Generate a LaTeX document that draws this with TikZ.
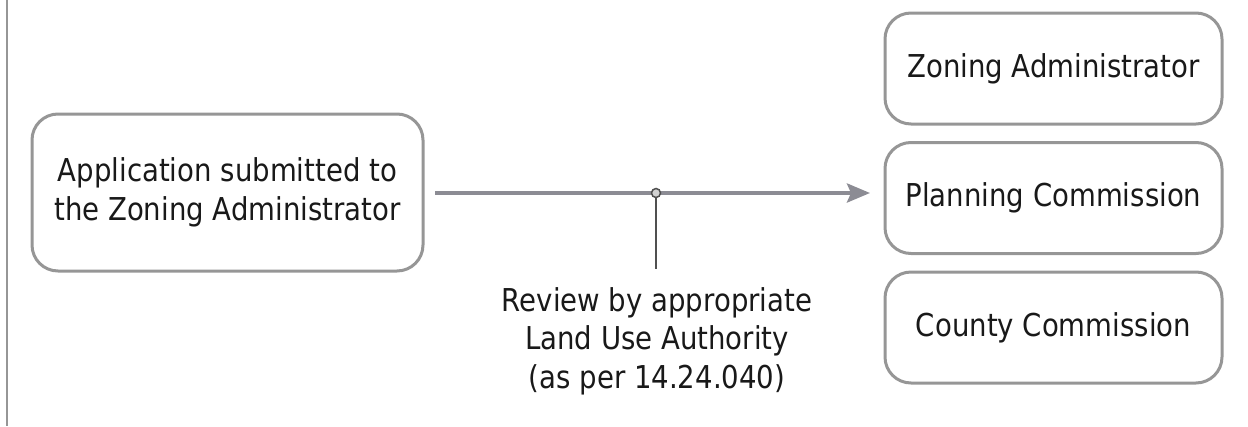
\documentclass[tikz,border=0pt]{standalone}
\usepackage{fontspec}
\setmainfont[FakeStretch=0.875]{DejaVu Sans}
\usetikzlibrary{arrows.meta,calc}
\definecolor{boxgray}{RGB}{150,150,150}
\definecolor{arrgray}{RGB}{140,140,148}
\definecolor{darkline}{RGB}{80,80,80}
\definecolor{txt}{RGB}{25,25,25}
\begin{document}
\begin{tikzpicture}[x=1pt,y=-1pt,
  every node/.style={font=\fontsize{31.5}{38.5}\selectfont, text=txt},
  rbox/.style={draw=boxgray, line width=3pt, rounded corners=26pt, fill=white, align=center, inner sep=0pt},
  flow/.style={draw=arrgray, line width=4pt, -{Stealth[length=23pt,width=19pt,inset=4pt]}},
  stem/.style={draw=darkline, line width=2pt},
  joint/.style={circle, draw=darkline, fill=gray!35, line width=1.5pt, minimum size=9pt, inner sep=0pt}
]
\useasboundingbox (0,0) rectangle (1248,426);
\coordinate (lt) at (7,0);
\coordinate (lb) at (7,426);
\draw[boxgray, line width=2.5pt] (lt) -- (lb);

\node[rbox, minimum width=391pt, minimum height=157pt] (app) at (227.5,192.5)
  {Application submitted to\\the Zoning Administrator};

\node[rbox, minimum width=337pt, minimum height=111pt] (za) at (1053.5,68.5) {Zoning Administrator};
\node[rbox, minimum width=337pt, minimum height=111pt] (pc) at (1053.5,198) {Planning Commission};
\node[rbox, minimum width=337pt, minimum height=111pt] (cc) at (1053.5,327.5) {County Commission};

\coordinate (tip) at (870,193);
\coordinate (start) at (435,193);
\draw[flow] (start) -- (tip);

\coordinate (stemend) at (656,269);
\node[joint] (j) at (656,193) {};
\draw[stem] (j.south) -- (stemend);

\node[align=center, anchor=north] (rev) at (657,284)
  {Review by appropriate\\Land Use Authority\\(as per 14.24.040)};
\end{tikzpicture}
\end{document}
